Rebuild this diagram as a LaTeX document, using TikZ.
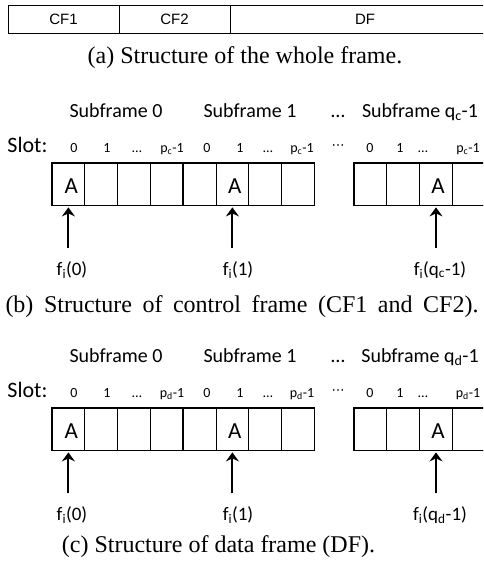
\documentclass[tikz,border=0pt]{standalone}
\usepackage{fontspec}
\setmainfont{Liberation Serif}
\newfontfamily\calib{Carlito}
\newfontfamily\arialf{Liberation Sans}
\newfontfamily\dejavu{DejaVu Sans}
\usetikzlibrary{arrows.meta}
\begin{document}
\begin{tikzpicture}[x=1pt,y=-1pt,
  cell/.style={draw, line width=0.8pt, minimum width=32.8pt, minimum height=42pt,
               inner sep=0pt},
  slotA/.style={font=\calib\fontsize{23}{23}\selectfont, inner sep=0pt},
  subfr/.style={font=\calib\fontsize{20}{24}\selectfont, inner sep=0pt, anchor=base},
  slotlab/.style={font=\calib\fontsize{22}{26}\selectfont, inner sep=0pt, anchor=base},
  slotnum/.style={font=\calib\fontsize{14}{16}\selectfont, inner sep=0pt, anchor=base},
  flab/.style={font=\calib\fontsize{19}{22}\selectfont, inner sep=0pt, anchor=base},
  captext/.style={font=\fontsize{24}{28}\selectfont, inner sep=0pt, anchor=base},
  barcell/.style={draw, line width=0.8pt, minimum height=28pt, inner sep=0pt,
                  font=\arialf\fontsize{15}{17}\selectfont},
  hop/.style={line width=2pt,
              -{Stealth[length=9pt,width=13pt,inset=3pt]}},
  sfbox/.style={draw, line width=1.3pt},
]
\clip (0,0) rectangle (483,568);

% (a) the whole frame
\node[barcell, minimum width=111pt] (cf1) at (63.5,19) {CF1};
\node[barcell, minimum width=111pt] (cf2) at (174.5,19) {CF2};
\node[barcell, minimum width=270pt] (df)  at (365,19) {DF};
\node[captext] (capa) at (245,63) {(a) Structure of the whole frame.};

% (b) and (c): slots grouped into subframes
\foreach \pn/\q/\yo in {b/c/0, c/d/245} {
  \begin{scope}[shift={(0,\yo)}]
    \node[subfr] (\pn s0) at (116,117.5) {Subframe 0};
    \node[subfr] (\pn s1) at (250,117.5) {Subframe 1};
    \node[subfr] (\pn sd) at (338,117.5) {…};
    \node[subfr] (\pn sq) at (420,117.5) {Subframe q\textsubscript{\q}-1};
    \node[slotlab] (\pn slot) at (27.5,152.5) {Slot:};
    \foreach \x/\t [count=\i] in {74/0, 107/1, 137/…, 172/p\textsubscript{\q}-1,
                                 207/0, 240/1, 268/…, 302/p\textsubscript{\q}-1,
                                 370/0, 400/1, 423/…, 468/p\textsubscript{\q}-1}
      \node[slotnum] (\pn n\i) at (\x,152.5) {\t};
    \node[slotnum, font=\dejavu\fontsize{13}{15}\selectfont] (\pn ng) at (338,149) {⋯};
    % slot cells
    \foreach \x [count=\i from 0] in {68.4,101.2,134.0,166.8,199.6,232.4,265.2,298.0}
      \node[cell] (\pn\i) at (\x,184) {};
    \foreach \x [count=\i from 8] in {370.4,403.2,436.0,468.8}
      \node[cell] (\pn\i) at (\x,184) {};
    \node[slotA] (\pn a0) at ([xshift=3pt,yshift=-2pt]\pn0.center) {A};
    \node[slotA] (\pn a1) at ([xshift=2.5pt,yshift=-2pt]\pn5.center) {A};
    \node[slotA] (\pn a2) at ([xshift=2pt,yshift=-2pt]\pn10.center) {A};
    % subframe outlines
    \draw[sfbox] (\pn0.north west) rectangle (\pn3.south east);
    \draw[sfbox] (\pn4.north west) rectangle (\pn7.south east);
    \draw[sfbox] (\pn8.north west) rectangle (\pn11.south east);
    % hopping sequence pointers
    \node[flab] (\pn f0) at (72,275) {f\textsubscript{i}(0)};
    \node[flab] (\pn f1) at (238,275) {f\textsubscript{i}(1)};
    \node[flab] (\pn fq) at (440,275) {f\textsubscript{i}(q\textsubscript{\q}-1)};
    \coordinate (\pn t0) at ([yshift=-43pt]\pn0.south);
    \coordinate (\pn t1) at ([yshift=-43pt]\pn5.south);
    \coordinate (\pn t2) at ([yshift=-43pt]\pn10.south);
    \draw[hop] (\pn t0) -- ([yshift=-2pt]\pn0.south);
    \draw[hop] (\pn t1) -- ([yshift=-2pt]\pn5.south);
    \draw[hop] (\pn t2) -- ([yshift=-2pt]\pn10.south);
  \end{scope}
}

\node[captext] (capb) at (242,312)
  {\makebox[473pt][s]{(b) Structure of control frame (CF1 and CF2).}};
\node[captext] (capc) at (218.5,552) {(c) Structure of data frame (DF).};
\end{tikzpicture}
\end{document}
